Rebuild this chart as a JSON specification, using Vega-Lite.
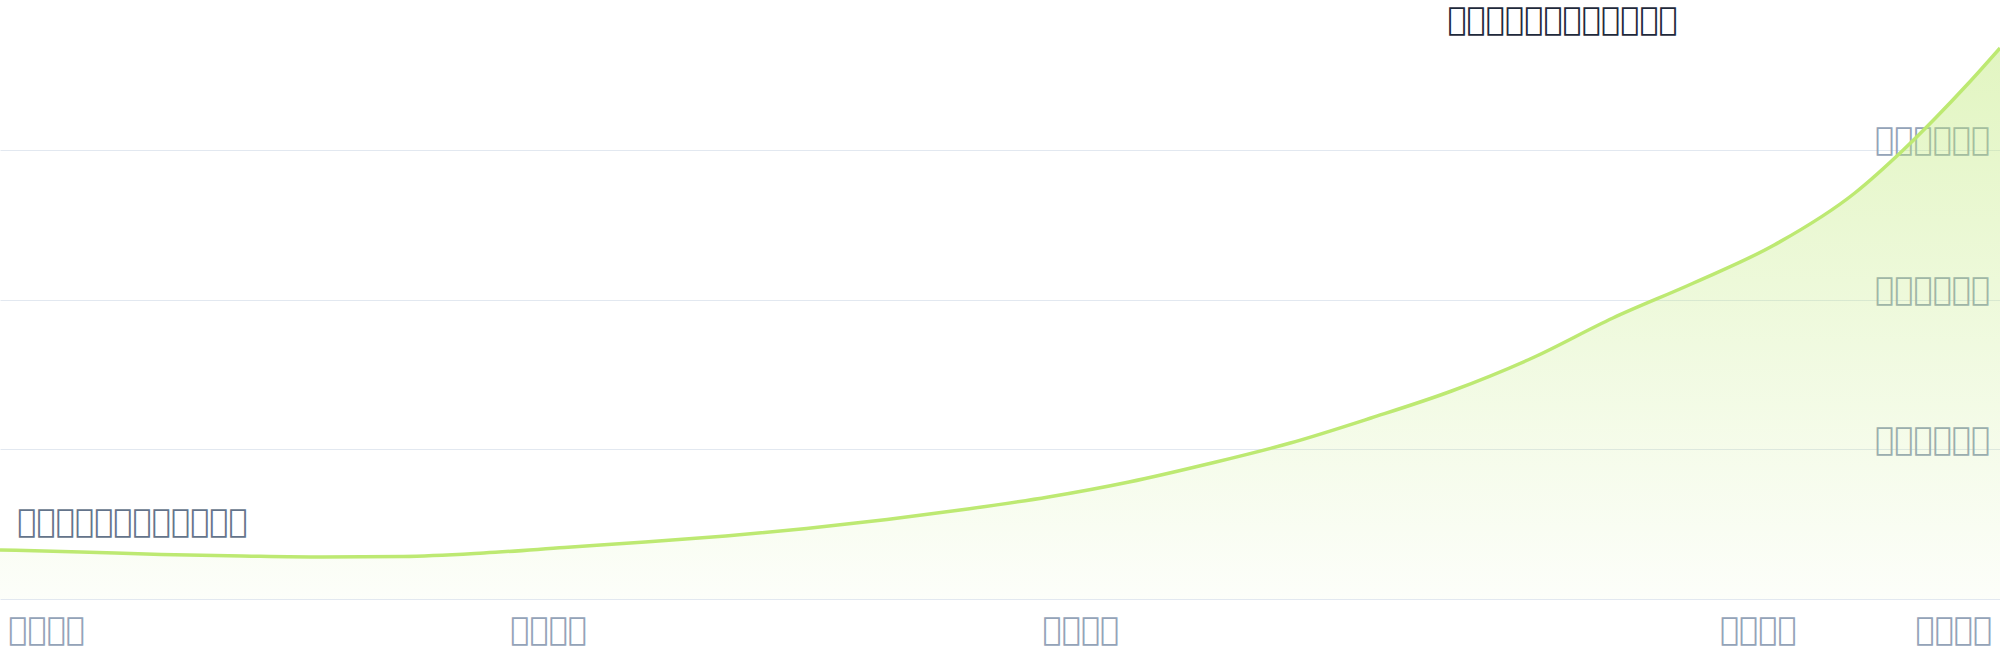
{
  "$schema": "https://vega.github.io/schema/vega-lite/v6.json",
  "width": 2000,
  "height": 599,
  "autosize": {"type": "none"},
  "padding": {"left": 0, "top": 0, "right": 0, "bottom": 61},
  "background": "#ffffff",
  "config": {
    "view": {"stroke": null},
    "font": "DejaVu Sans"
  },
  "datasets": {
    "series": [
      {"year": 1900, "value": 32720},
      {"year": 1905, "value": 31390},
      {"year": 1910, "value": 29720},
      {"year": 1915, "value": 28720},
      {"year": 1920, "value": 28050},
      {"year": 1925, "value": 28380},
      {"year": 1930, "value": 30720},
      {"year": 1935, "value": 34390},
      {"year": 1940, "value": 38060},
      {"year": 1945, "value": 42070},
      {"year": 1950, "value": 47080},
      {"year": 1955, "value": 53090},
      {"year": 1960, "value": 60100},
      {"year": 1965, "value": 68110},
      {"year": 1970, "value": 78130},
      {"year": 1975, "value": 90480},
      {"year": 1980, "value": 104170},
      {"year": 1985, "value": 120870},
      {"year": 1990, "value": 138900},
      {"year": 1995, "value": 160940},
      {"year": 2000, "value": 187650},
      {"year": 2005, "value": 211020},
      {"year": 2010, "value": 236390},
      {"year": 2015, "value": 271120},
      {"year": 2018, "value": 299830},
      {"year": 2020, "value": 321200},
      {"year": 2022, "value": 343910},
      {"year": 2024, "value": 367950}
    ],
    "notes": [
      {"year": 2004.04, "value": 379960, "label": "\ue000\ue001\ue002\ue003\ue004\ue005\ue006\ue007\ue008\ue009\ue00a\ue00b", "kind": "title"},
      {"year": 1901.09, "value": 44740, "label": "\ue040\ue041\ue042\ue043\ue044\ue045\ue046\ue047\ue048\ue049\ue04a\ue04b", "kind": "note"}
    ]
  },
  "encoding": {
    "x": {
      "field": "year",
      "type": "quantitative",
      "scale": {"domain": [1900, 2024], "nice": false, "zero": false},
      "axis": {
        "title": null,
        "values": [1900, 1934, 1967, 2009, 2024],
        "labelExpr": "datum.value == 1900 ? '\ue010\ue011\ue012\ue013' : datum.value == 1934 ? '\ue014\ue015\ue016\ue017' : datum.value == 1967 ? '\ue018\ue019\ue01a\ue01b' : datum.value == 2009 ? '\ue01c\ue01d\ue01e\ue01f' : '\ue020\ue021\ue022\ue023'",
        "grid": false,
        "ticks": false,
        "domainColor": "#e2e8f0",
        "domainWidth": 1,
        "labelColor": "#94a3b8",
        "labelFont": "DejaVu Sans",
        "labelFontSize": 32,
        "labelBaseline": "alphabetic",
        "labelPadding": 40,
        "labelLimit": 400,
        "labelFlush": true,
        "labelFlushOffset": -8,
        "zindex": 0
      }
    },
    "y": {
      "field": "value",
      "type": "quantitative",
      "scale": {"domain": [0, 400000], "nice": false},
      "axis": {
        "title": null,
        "orient": "right",
        "values": [100000, 200000, 300000],
        "labelExpr": "datum.value == 100000 ? '\ue024\ue025\ue026\ue027\ue028\ue029' : datum.value == 200000 ? '\ue030\ue031\ue032\ue033\ue034\ue035' : '\ue036\ue037\ue038\ue039\ue03a\ue03b'",
        "domain": false,
        "ticks": false,
        "tickSize": 0,
        "gridColor": "#e2e8f0",
        "gridWidth": 1,
        "labelColor": "#94a3b8",
        "labelFont": "DejaVu Sans",
        "labelFontSize": 32,
        "labelLimit": 400,
        "labelAlign": "right",
        "labelBaseline": "alphabetic",
        "labelPadding": -10,
        "labelDy": -16,
        "zindex": 0
      }
    }
  },
  "layer": [
    {
      "data": {"name": "series"},
      "mark": {
        "type": "area",
        "interpolate": "monotone",
        "color": {
          "gradient": "linear",
          "x1": 0, "y1": 0, "x2": 0, "y2": 1,
          "stops": [
            {"offset": 0, "color": "rgba(190,233,118,0.45)"},
            {"offset": 1, "color": "rgba(190,233,118,0.04)"}
          ]
        }
      }
    },
    {
      "data": {"name": "series"},
      "mark": {
        "type": "line",
        "interpolate": "monotone",
        "color": "#bde972",
        "strokeWidth": 3.5
      }
    },
    {
      "data": {"name": "notes"},
      "transform": [{"filter": "datum.kind == 'title'"}],
      "mark": {
        "type": "text",
        "align": "right",
        "baseline": "alphabetic",
        "font": "DejaVu Sans",
        "fontSize": 32,
        "color": "#1e293b"
      },
      "encoding": {"text": {"field": "label"}}
    },
    {
      "data": {"name": "notes"},
      "transform": [{"filter": "datum.kind == 'note'"}],
      "mark": {
        "type": "text",
        "align": "left",
        "baseline": "alphabetic",
        "font": "DejaVu Sans",
        "fontSize": 32,
        "color": "#64748b"
      },
      "encoding": {"text": {"field": "label"}}
    }
  ]
}
